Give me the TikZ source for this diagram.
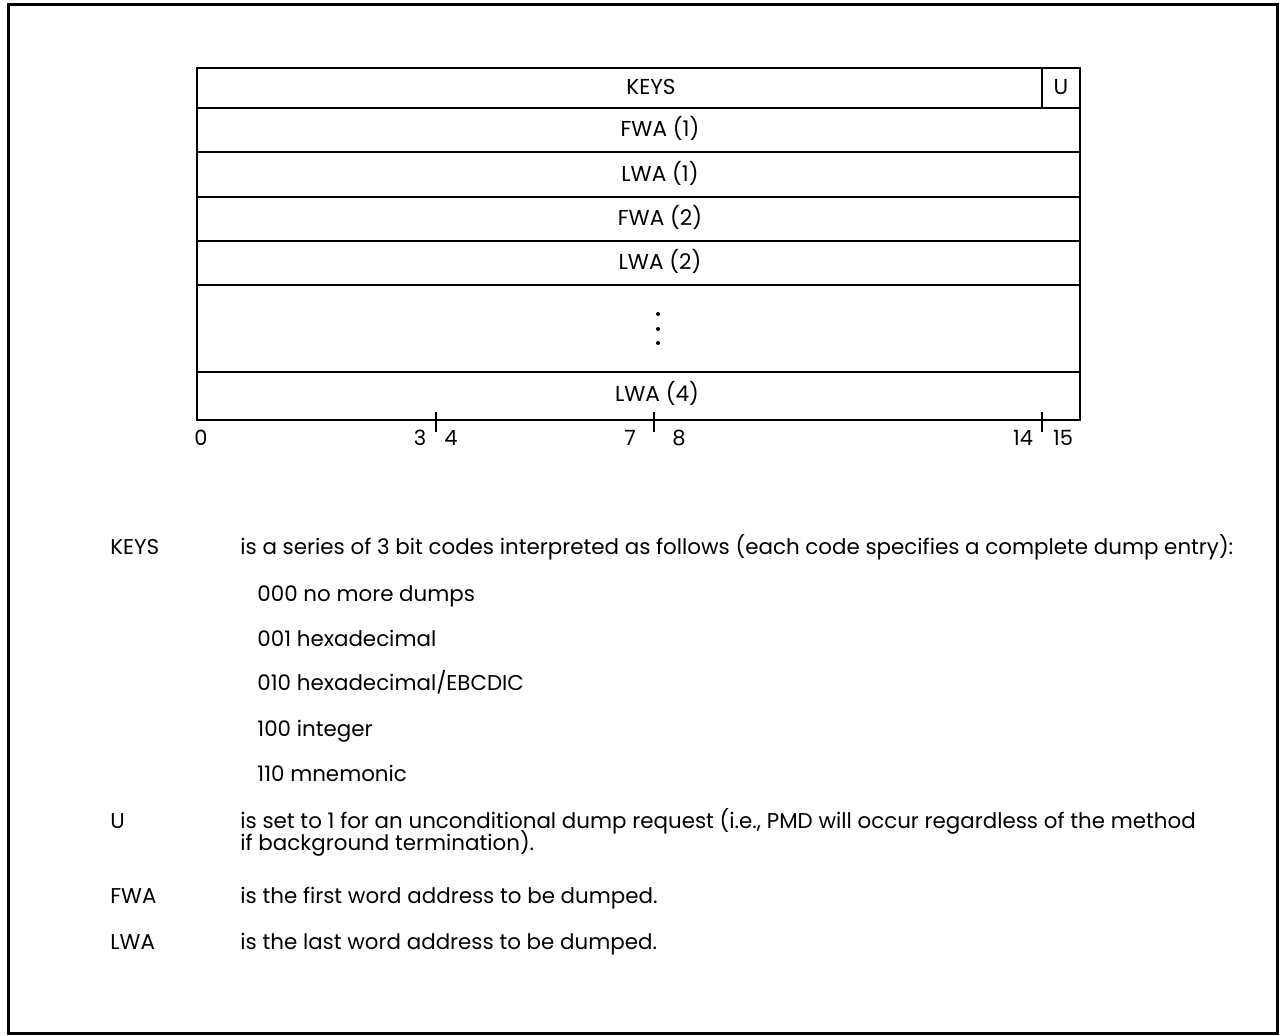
\documentclass[tikz,border=0pt]{standalone}
\usepackage{fontspec}
\setmainfont{Poppins}
\usepackage{tikz}
\usetikzlibrary{positioning, calc}

\begin{document}
\begin{tikzpicture}[x=0.5pt, y=-0.5pt,
  frame/.style={line width=1.5pt},
  rowline/.style={line width=1.4pt},
  field/.style={inner sep=0pt, font=\fontsize{10.8}{12}\selectfont, text height=1.6ex, text depth=.4ex},
  bitno/.style={anchor=base, inner sep=0pt, font=\fontsize{10.5}{12}\selectfont},
  txt/.style={anchor=base west, inner sep=0pt, font=\fontsize{10.7}{13}\selectfont}]
\useasboundingbox (0,0) rectangle (1281,1036);
\draw[frame] (8,5) rectangle (1277,1034);
% word layout
\draw[rowline] (197,68) rectangle (1080,420);
\foreach \y in {108,152,197,241,285,372}
  \draw[rowline] (197,\y) -- (1080,\y);
\draw[line width=0.8pt] (1042,68) -- (1042,108);
\node[field] (keys) at (651,88) {KEYS};
\node[field] (u) at (1061,88) {U};
\node[field] (fwa1) at (660,130) {FWA (1)};
\node[field] (lwa1) at (660,175) {LWA (1)};
\node[field] (fwa2) at (660,219) {FWA (2)};
\node[field] (lwa2) at (660,263) {LWA (2)};
\node[field] (lwa4) at (657,395) {LWA (4)};
% dots of the gap row
\foreach \y in {314,329,343}
  \fill (658,\y) circle[radius=1pt];
% bit ticks
\foreach \x in {436,654,1042}
  \draw[line width=0.8pt] (\x,412) -- (\x,432);
\node[bitno] (b0) at (201,446) {0};
\node[bitno] (b3) at (420,446) {3};
\node[bitno] (b4) at (451,446) {4};
\node[bitno] (b7) at (630,446) {7};
\node[bitno] (b8) at (679,446) {8};
\node[bitno] (b14) at (1023,446) {14};
\node[bitno] (b15) at (1063,446) {15};
% field descriptions
\node[txt] (kkeys) at (110,555) {KEYS};
\node[txt] (dkeys) at (240,555) {is a series of 3 bit codes interpreted as follows (each code specifies a complete dump entry):};
\node[txt] (c0) at (257,602) {000 no more dumps};
\node[txt] (c1) at (257,647) {001 hexadecimal};
\node[txt] (c2) at (257,691) {010 hexadecimal/EBCDIC};
\node[txt] (c4) at (257,737) {100 integer};
\node[txt] (c6) at (257,782) {110 mnemonic};
\node[txt] (ku) at (110,829) {U};
\node[txt] (du) at (240,829) {is set to 1 for an unconditional dump request (i.e., PMD will occur regardless of the method};
\node[txt] (du2) at (240,851) {if background termination).};
\node[txt] (kfwa) at (110,904) {FWA};
\node[txt] (dfwa) at (240,904) {is the first word address to be dumped.};
\node[txt] (klwa) at (110,950) {LWA};
\node[txt] (dlwa) at (240,950) {is the last word address to be dumped.};
\end{tikzpicture}
\end{document}
